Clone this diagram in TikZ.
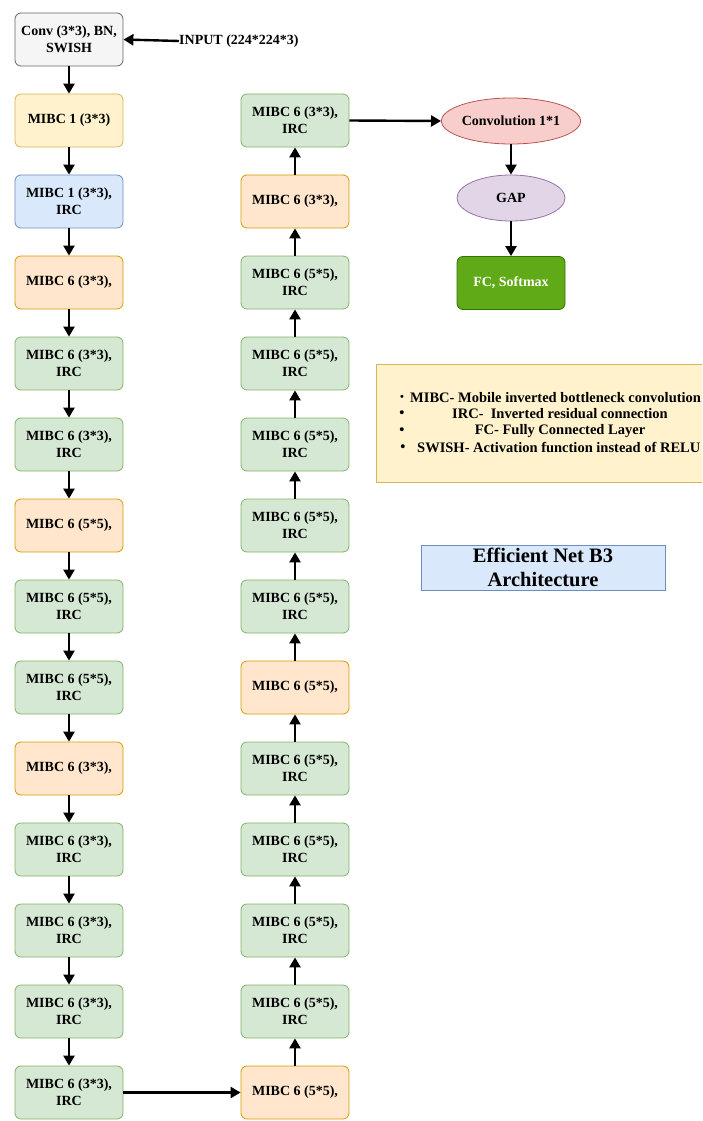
\documentclass[tikz,border=0pt]{standalone}
\usepackage{fontspec}
\setmainfont{Liberation Serif}
\usetikzlibrary{arrows.meta,shapes.geometric}
\definecolor{greyF}{HTML}{F5F5F5}\definecolor{greyD}{HTML}{666666}
\definecolor{yelF}{HTML}{FFF2CC}\definecolor{yelD}{HTML}{D6B656}
\definecolor{bluF}{HTML}{DAE8FC}\definecolor{bluD}{HTML}{6C8EBF}
\definecolor{orgF}{HTML}{FFE6CC}\definecolor{orgD}{HTML}{D79B00}
\definecolor{grnF}{HTML}{D5E8D4}\definecolor{grnD}{HTML}{82B366}
\definecolor{redF}{HTML}{F8CECC}\definecolor{redD}{HTML}{B85450}
\definecolor{purF}{HTML}{E1D5E7}\definecolor{purD}{HTML}{9673A6}
\definecolor{fcF}{HTML}{60A917}\definecolor{fcD}{HTML}{2D7600}
\begin{document}
\begin{tikzpicture}[x=1pt,y=-1pt,
  blk/.style={rectangle, rounded corners=6pt, minimum width=108pt, minimum height=53pt,
    line width=0.8pt, font=\bfseries\fontsize{14}{17}\selectfont, align=center, inner sep=0pt},
  gry/.style={blk, fill=greyF, draw=greyD},
  yel/.style={blk, fill=yelF, draw=yelD},
  blu/.style={blk, fill=bluF, draw=bluD},
  org/.style={blk, fill=orgF, draw=orgD},
  grn/.style={blk, fill=grnF, draw=grnD},
  ell/.style={ellipse, minimum width=108pt, minimum height=46pt, inner sep=0pt, line width=0.8pt,
    font=\bfseries\fontsize{14}{17}\selectfont},
  arr/.style={-{Triangle[length=10pt,width=11pt]}, line width=2.4pt, black},
  txt/.style={font=\bfseries\fontsize{14}{17}\selectfont, inner sep=0pt},
  lg/.style={font=\bfseries\fontsize{14.5}{17}\selectfont, inner sep=0pt}
]
\useasboundingbox (0,0) rectangle (702,1121);
\clip (0,0) rectangle (702,1121);

% left column
\node[gry] (L0) at (69,39.5) {Conv (3*3), BN,\\SWISH};
\node[yel] (L1) at (69,120.5) {MIBC 1 (3*3)};
\node[blu] (L2) at (69,201.5) {MIBC 1 (3*3),\\IRC};
\node[org] (L3) at (69,282.5) {MIBC 6 (3*3),};
\node[grn] (L4) at (69,363.5) {MIBC 6 (3*3),\\IRC};
\node[grn] (L5) at (69,444.5) {MIBC 6 (3*3),\\IRC};
\node[org] (L6) at (69,525.5) {MIBC 6 (5*5),};
\node[grn] (L7) at (69,606.5) {MIBC 6 (5*5),\\IRC};
\node[grn] (L8) at (69,687.5) {MIBC 6 (5*5),\\IRC};
\node[org] (L9) at (69,768.5) {MIBC 6 (3*3),};
\node[grn] (L10) at (69,849.5) {MIBC 6 (3*3),\\IRC};
\node[grn] (L11) at (69,930.5) {MIBC 6 (3*3),\\IRC};
\node[grn] (L12) at (69,1011.5) {MIBC 6 (3*3),\\IRC};
\node[grn] (L13) at (69,1092.5) {MIBC 6 (3*3),\\IRC};

% right column
\node[grn] (R0) at (295,120.5) {MIBC 6 (3*3),\\IRC};
\node[org] (R1) at (295,201.5) {MIBC 6 (3*3),};
\node[grn] (R2) at (295,282.5) {MIBC 6 (5*5),\\IRC};
\node[grn] (R3) at (295,363.5) {MIBC 6 (5*5),\\IRC};
\node[grn] (R4) at (295,444.5) {MIBC 6 (5*5),\\IRC};
\node[grn] (R5) at (295,525.5) {MIBC 6 (5*5),\\IRC};
\node[grn] (R6) at (295,606.5) {MIBC 6 (5*5),\\IRC};
\node[org] (R7) at (295,687.5) {MIBC 6 (5*5),};
\node[grn] (R8) at (295,768.5) {MIBC 6 (5*5),\\IRC};
\node[grn] (R9) at (295,849.5) {MIBC 6 (5*5),\\IRC};
\node[grn] (R10) at (295,930.5) {MIBC 6 (5*5),\\IRC};
\node[grn] (R11) at (295,1011.5) {MIBC 6 (5*5),\\IRC};
\node[org] (R12) at (295,1092.5) {MIBC 6 (5*5),};

% head
\node[ell, fill=redF, draw=redD] (C1) at (511,121) {Convolution 1*1};
\node[ell, fill=purF, draw=purD] (GAP) at (511,198) {GAP};
\node[blk, fill=fcF, draw=fcD, text=white] (FC) at (511,283) {FC, Softmax};

% input
\node[txt, anchor=west] (IN) at (179,41) {INPUT (224*224*3)};

% legend
\node[rectangle, fill=yelF, draw=yelD, line width=0.8pt, minimum width=340pt, minimum height=118pt,
  anchor=north west, inner sep=0pt] (LEG) at (376,364) {};
\node[lg] (LB1) at (402,398) {\fontsize{11}{11}\selectfont\textbullet};
\node[lg, anchor=west] (LG1) at (410,398) {MIBC- Mobile inverted bottleneck convolution};
\node[lg] (LB2) at (402,414) {\textbullet};
\node[lg] (LG2) at (560,414) {IRC-~ Inverted residual connection};
\node[lg] (LB3) at (402,431) {\textbullet};
\node[lg] (LG3) at (560,431) {FC- Fully Connected Layer};
\node[lg] (LB4) at (403,448) {\textbullet};
\node[lg, anchor=west] (LG4) at (417,448) {SWISH- Activation function instead of RELU};

% title
\node[rectangle, fill=bluF, draw=bluD, line width=0.8pt, minimum width=244pt, minimum height=45pt,
  align=center, inner sep=0pt, font=\bfseries\fontsize{20.5}{24}\selectfont] (T) at (543,567.5)
  {Efficient Net B3\\Architecture};

% arrows
\foreach \a/\b in {L0/L1,L1/L2,L2/L3,L3/L4,L4/L5,L5/L6,L6/L7,L7/L8,L8/L9,L9/L10,L10/L11,L11/L12,L12/L13}
  \draw[arr] (\a.south) -- (\b.north);
\foreach \a/\b in {R12/R11,R11/R10,R10/R9,R9/R8,R8/R7,R7/R6,R6/R5,R5/R4,R4/R3,R3/R2,R2/R1,R1/R0}
  \draw[arr] (\a.north) -- (\b.south);
\draw[arr] (L13.east) -- (R12.west);
\draw[arr] (R0.east) -- (C1.west);
\draw[arr] (C1.south) -- (GAP.north);
\draw[arr] (GAP.south) -- (FC.north);
\draw[arr] (IN.west) -- (L0.east);
\end{tikzpicture}
\end{document}
